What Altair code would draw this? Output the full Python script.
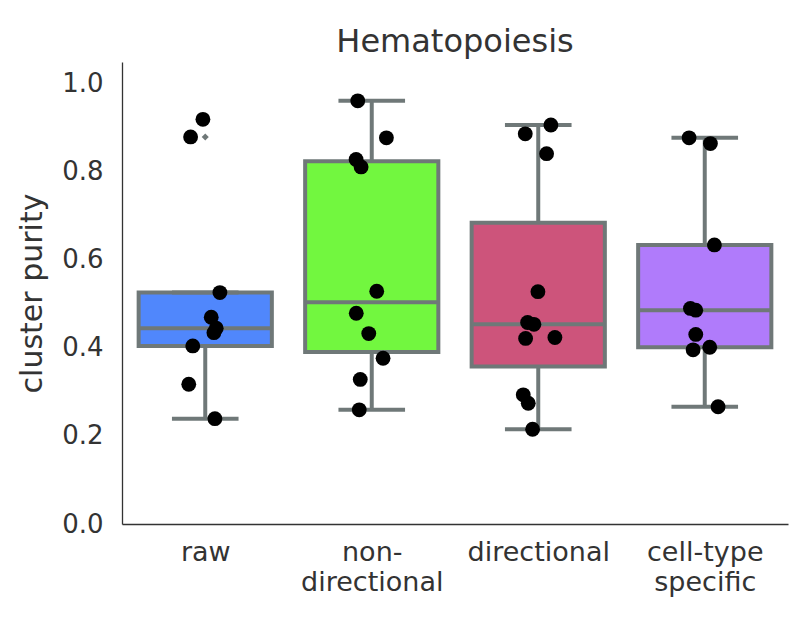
import altair as alt
import numpy as np
import pandas as pd

# ---- data ----
categories = ["raw", "non-directional", "directional", "cell-type specific"]
colors = ["#5087fc", "#72f73f", "#cd547b", "#b07bfb"]

raw_vals = [0.918, 0.878, 0.525, 0.469, 0.444, 0.434, 0.404, 0.317, 0.239]
nondir_vals = [0.960, 0.876, 0.827, 0.810, 0.528, 0.478, 0.432, 0.376, 0.328, 0.259]
dir_vals = [0.905, 0.885, 0.840, 0.527, 0.457, 0.453, 0.421, 0.423, 0.293, 0.274, 0.215]
cell_vals = [0.876, 0.863, 0.633, 0.489, 0.485, 0.430, 0.395, 0.401, 0.266]

# strip-plot jitter (fraction of category spacing)
raw_jit = [-0.014, -0.088, 0.088, 0.036, 0.066, 0.052, -0.075, -0.099, 0.058]
nondir_jit = [-0.084, 0.088, -0.094, -0.064, 0.030, -0.093, -0.018, 0.068, -0.069, -0.075]
dir_jit = [0.076, -0.078, 0.050, -0.002, -0.064, -0.026, -0.076, 0.100, -0.090, -0.060, -0.034]
cell_jit = [-0.094, 0.034, 0.058, -0.086, -0.054, -0.054, -0.070, 0.030, 0.080]

all_vals = [raw_vals, nondir_vals, dir_vals, cell_vals]
all_jit = [raw_jit, nondir_jit, dir_jit, cell_jit]

# ---- tables ----
pts_rows, box_rows, cap_rows, flier_rows = [], [], [], []
for i, (cat, vals, jit) in enumerate(zip(categories, all_vals, all_jit)):
    v = np.array(vals)
    q1, med, q3 = np.percentile(v, [25, 50, 75])
    iqr = q3 - q1
    inside = v[(v >= q1 - 1.5 * iqr) & (v <= q3 + 1.5 * iqr)]
    lo, hi = inside.min(), inside.max()
    box_rows.append(dict(cat=cat, idx=i, left=i - 0.4, right=i + 0.4,
                         q1=q1, q3=q3, med=med, lo=lo, hi=hi))
    for w in (lo, hi):
        cap_rows.append(dict(cat=cat, idx=i, left=i - 0.2, right=i + 0.2, y=w))
    for val in v[(v < lo) | (v > hi)]:
        flier_rows.append(dict(cat=cat, idx=i, y=val))
    for val, j in zip(vals, jit):
        pts_rows.append(dict(cat=cat, x=i + j, y=val))

pts = pd.DataFrame(pts_rows)
boxes = pd.DataFrame(box_rows)
caps = pd.DataFrame(cap_rows)
fliers = pd.DataFrame(flier_rows)

GREY = "#6f7878"
TEXT = "#333333"
LW = 4

xscale = alt.Scale(domain=[-0.5, 3.5], nice=False, zero=False)
yscale = alt.Scale(domain=[0, 1.048], nice=False, zero=False)

label_expr = ("datum.value == 0 ? 'raw' : datum.value == 1 ? ['non-', 'directional'] : "
              "datum.value == 2 ? 'directional' : ['cell-type', 'specific']")

xaxis = alt.Axis(values=[0, 1, 2, 3], labelExpr=label_expr, title=None, ticks=False,
                 grid=False, labelPadding=15, labelFontSize=27, labelLineHeight=30,
                 labelColor=TEXT, labelFont="DejaVu Sans", domainColor="#333333",
                 domainWidth=1.3, labelAngle=0)
yaxis = alt.Axis(values=[0, 0.2, 0.4, 0.6, 0.8, 1.0], format=".1f", title="cluster purity",
                 ticks=False, grid=False, labelPadding=19, labelFontSize=26,
                 labelColor=TEXT, labelFont="DejaVu Sans", titleFont="DejaVu Sans",
                 titleFontSize=30, titleFontWeight="normal", titleColor=TEXT,
                 titlePadding=14, domainColor="#333333", domainWidth=1.3)

color_scale = alt.Scale(domain=categories, range=colors)

whisk_lo = alt.Chart(boxes).mark_rule(color=GREY, strokeWidth=LW).encode(
    x=alt.X("idx:Q", scale=xscale, axis=xaxis),
    y=alt.Y("lo:Q", scale=yscale, axis=yaxis),
    y2="q1:Q",
)
whisk_hi = alt.Chart(boxes).mark_rule(color=GREY, strokeWidth=LW).encode(
    x=alt.X("idx:Q", scale=xscale),
    y=alt.Y("q3:Q", scale=yscale),
    y2="hi:Q",
)
cap = alt.Chart(caps).mark_rule(color=GREY, strokeWidth=LW).encode(
    x=alt.X("left:Q", scale=xscale),
    x2="right:Q",
    y=alt.Y("y:Q", scale=yscale),
)
box = alt.Chart(boxes).mark_rect(stroke=GREY, strokeWidth=LW).encode(
    x=alt.X("left:Q", scale=xscale),
    x2="right:Q",
    y=alt.Y("q1:Q", scale=yscale),
    y2="q3:Q",
    fill=alt.Fill("cat:N", scale=color_scale, legend=None),
)
median = alt.Chart(boxes).mark_rule(color=GREY, strokeWidth=LW).encode(
    x=alt.X("left:Q", scale=xscale),
    x2="right:Q",
    y=alt.Y("med:Q", scale=yscale),
)
flier = alt.Chart(fliers).mark_point(shape="diamond", filled=True, color=GREY,
                                     size=50, opacity=1).encode(
    x=alt.X("idx:Q", scale=xscale),
    y=alt.Y("y:Q", scale=yscale),
)
dots = alt.Chart(pts).mark_circle(color="black", size=220, opacity=1).encode(
    x=alt.X("x:Q", scale=xscale),
    y=alt.Y("y:Q", scale=yscale),
)

chart = alt.layer(whisk_lo, whisk_hi, box, median, cap, flier, dots).properties(
    width=666,
    height=462,
    autosize=alt.AutoSizeParams(type="none"),
    padding={"left": 114, "top": 54, "right": 10, "bottom": 90},
    title=alt.TitleParams("Hematopoiesis", fontSize=32, font="DejaVu Sans",
                          fontWeight="normal", color=TEXT, anchor="middle",
                          offset=3),
).configure_view(stroke=None)

chart.save("out.html", embed_options={"renderer": "svg", "actions": False})
